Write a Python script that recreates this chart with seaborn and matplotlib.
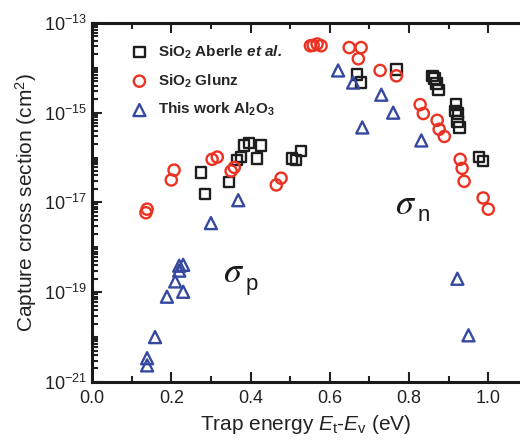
import numpy as np
import pandas as pd
import matplotlib
matplotlib.use("Agg")
import matplotlib.pyplot as plt
import matplotlib.ticker as mticker
import seaborn as sns

sns.set_style("ticks")
plt.rcParams["font.family"] = ["Liberation Sans", "DejaVu Sans"]
plt.rcParams["mathtext.fontset"] = "custom"
plt.rcParams["mathtext.rm"] = "Liberation Sans"
plt.rcParams["mathtext.it"] = "Liberation Sans:italic"
plt.rcParams["mathtext.bf"] = "Liberation Sans:bold"
plt.rcParams["mathtext.bfit"] = "Liberation Sans:bold:italic"

# SiO2 Aberle et al. (trap energy eV, log10 cross section)
aberle_e = [0.275, 0.285, 0.346, 0.366, 0.376, 0.384, 0.396, 0.417, 0.427, 0.505, 0.515, 0.528,
            0.669, 0.679, 0.768, 0.859, 0.864, 0.869, 0.874, 0.919, 0.917, 0.924, 0.922, 0.927,
            0.977, 0.987]
aberle_log = [-16.33, -16.81, -16.55, -16.06, -15.99, -15.73, -15.68, -16.02, -15.73, -16.02, -16.06, -15.86,
              -14.15, -14.33, -14.04, -14.18, -14.24, -14.35, -14.49, -14.82, -14.97, -15.02, -15.20, -15.33,
              -15.99, -16.08]

# SiO2 Glunz
glunz_e = [0.139, 0.136, 0.207, 0.200, 0.303, 0.316, 0.351, 0.359, 0.465, 0.477,
           0.551, 0.558, 0.568, 0.578, 0.649, 0.679, 0.672, 0.727, 0.768,
           0.828, 0.836, 0.871, 0.876, 0.889, 0.929, 0.934, 0.939, 0.987, 1.000]
glunz_log = [-17.15, -17.23, -16.28, -16.50, -16.04, -15.99, -16.30, -16.22, -16.61, -16.46,
             -13.51, -13.50, -13.47, -13.51, -13.55, -13.55, -13.80, -14.06, -14.18,
             -14.82, -15.02, -15.17, -15.37, -15.53, -16.04, -16.24, -16.53, -16.90, -17.15]

# This work Al2O3
al_e = [0.139, 0.139, 0.159, 0.189, 0.210, 0.220, 0.230, 0.220, 0.230, 0.300, 0.369,
        0.621, 0.659, 0.682, 0.730, 0.760, 0.831, 0.922, 0.950]
al_log = [-20.63, -20.47, -20.00, -19.10, -18.76, -18.41, -18.39, -18.52, -18.99, -17.46, -16.95,
          -14.06, -14.33, -15.33, -14.60, -15.00, -15.62, -18.70, -19.96]

series = [
    ("SiO$_\\mathbf{2}$ Aberle $\\mathbfit{et\\ al.}$", aberle_e, aberle_log, "s", "#1e1e1e", 55),
    ("SiO$_\\mathbf{2}$ Glunz", glunz_e, glunz_log, "o", "#ec3323", 65),
    ("This work Al$_\\mathbf{2}$O$_\\mathbf{3}$", al_e, al_log, "^", "#3649a0", 75),
]

fig = plt.figure(figsize=(5.2, 4.45), dpi=100)
ax = fig.add_axes([0.177, 0.1416, 0.823, 0.807])

for label, e, lg, mk, col, size in series:
    df = pd.DataFrame({"E": e, "sigma": 10.0 ** np.array(lg)})
    sns.scatterplot(data=df, x="E", y="sigma", marker=mk, s=size, color=col,
                    facecolors="none", edgecolor=col, linewidth=1.7, label=label, ax=ax)

ax.set_yscale("log")
ax.set_xlim(0, 1.08)
ax.set_ylim(1e-21, 1e-13)

ax.xaxis.set_major_locator(mticker.MultipleLocator(0.2))
ax.xaxis.set_minor_locator(mticker.MultipleLocator(0.1))
ax.xaxis.set_major_formatter(mticker.FormatStrFormatter("%.1f"))
ax.yaxis.set_major_locator(mticker.FixedLocator([1e-21, 1e-19, 1e-17, 1e-15, 1e-13]))
ax.yaxis.set_minor_locator(mticker.LogLocator(base=10, subs=np.arange(1, 10), numticks=30))
ax.yaxis.set_major_formatter(mticker.LogFormatterMathtext())
ax.yaxis.set_minor_formatter(mticker.NullFormatter())

ax.tick_params(which="both", direction="in", top=True, width=1.5, labelsize=13, colors="#222222")
ax.tick_params(which="major", length=7)
ax.tick_params(which="minor", length=4)
ax.tick_params(axis="x", which="major", pad=6)

for side in ["left", "bottom", "top"]:
    ax.spines[side].set_linewidth(2.2)
    ax.spines[side].set_color("#1a1a1a")
ax.spines["right"].set_visible(False)

ax.set_xlabel("Trap energy $E_\\mathrm{t}$-$E_\\mathrm{v}$ (eV)", fontsize=15, color="#222222")
ax.set_ylabel("Capture cross section (cm$^2$)", fontsize=15, color="#222222")

# sigma_n and sigma_p labels: serif italic sigma, sans subscript
ax.text(0.765, 10 ** -17.05, "$\\sigma$", fontsize=26, ha="left", va="center",
        math_fontfamily="stix", color="#1a1a1a")
ax.text(0.822, 10 ** -17.3, "n", fontsize=16, ha="left", va="center", color="#1a1a1a")
ax.text(0.33, 10 ** -18.55, "$\\sigma$", fontsize=26, ha="left", va="center",
        math_fontfamily="stix", color="#1a1a1a")
ax.text(0.387, 10 ** -18.83, "p", fontsize=16, ha="left", va="center", color="#1a1a1a")

leg = ax.legend(loc="upper left", bbox_to_anchor=(0.075, 0.96), frameon=False,
                prop={"weight": "bold", "size": 11}, handletextpad=0.6, labelspacing=0.75,
                handlelength=1.2, borderaxespad=0)

fig.savefig("out.png", dpi=100)
